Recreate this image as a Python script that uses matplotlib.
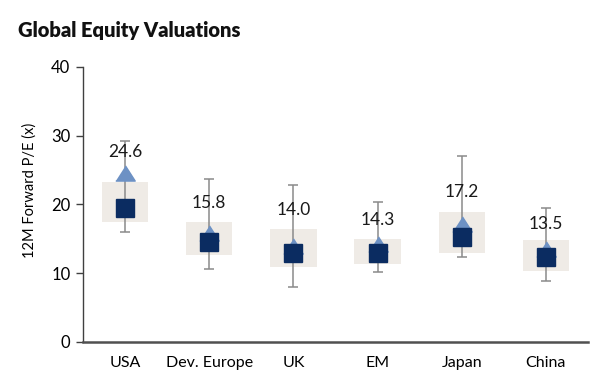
import matplotlib.pyplot as plt
import numpy as np

plt.rcParams['font.family'] = ['Lato', 'DejaVu Sans']

regions = ['USA', 'Dev. Europe', 'UK', 'EM', 'Japan', 'China']
current_pe = [24.6, 15.8, 14.0, 14.3, 17.2, 13.5]      # triangles
avg_pe = [19.5, 14.6, 13.0, 13.0, 15.2, 12.3]          # squares
box_low = [17.5, 12.7, 10.9, 11.4, 13.0, 10.3]
box_high = [23.3, 17.5, 16.5, 15.0, 18.9, 14.8]
range_low = [16.0, 10.6, 8.0, 10.2, 12.3, 8.9]
range_high = [29.2, 23.7, 22.9, 20.3, 27.1, 19.5]

x = np.arange(len(regions))

fig = plt.figure(figsize=(6.11, 3.87), dpi=100)
ax = fig.add_axes([0.1358, 0.1163, 0.8265, 0.7106])

# shaded boxes
ax.bar(x, np.array(box_high) - np.array(box_low), bottom=box_low, width=0.55,
       color='#efebe6', zorder=1)

# min/max whiskers
mid = np.array(avg_pe)
ax.errorbar(x, mid, yerr=[mid - np.array(range_low), np.array(range_high) - mid],
            fmt='none', ecolor='#8a8a8a', elinewidth=1.1, capsize=3.3, capthick=1.1,
            zorder=2)

tri = [(-1, -0.78), (1, -0.78), (0, 0.78)]
ax.plot(x, current_pe, linestyle='none', marker=tri, markersize=14,
        color='#6d91c4', zorder=3)
ax.plot(x, avg_pe, linestyle='none', marker='s', markersize=13,
        color='#0b2c61', markeredgecolor='#0b2c61', zorder=4)

label_offsets = [15, 22, 26, 17, 23, 18]
for xi, v, off in zip(x, current_pe, label_offsets):
    ax.annotate('%.1f' % v, xy=(xi, v), xytext=(0, off), textcoords='offset points',
                ha='center', va='center', fontsize=12.5, color='#1a1a1a', zorder=5)

ax.set_xlim(-0.5, 5.5)
ax.set_ylim(0, 40)
ax.set_yticks([0, 10, 20, 30, 40])
ax.set_xticks(x)
ax.set_xticklabels(regions, fontsize=11.5)
ax.tick_params(axis='x', length=0, pad=10)
ax.tick_params(axis='y', length=5, width=1, color='#404040', labelsize=12, pad=4)
ax.set_ylabel('12M Forward P/E (x)', fontsize=10.5, va='center')
ax.yaxis.set_label_coords(-0.105, 0.55)

for s in ['top', 'right']:
    ax.spines[s].set_visible(False)
ax.spines['left'].set_color('#404040')
ax.spines['left'].set_linewidth(1)
ax.spines['bottom'].set_color('#505050')
ax.spines['bottom'].set_linewidth(1.8)

fig.text(0.03, 0.905, 'Global Equity Valuations', fontsize=14.5, fontweight='heavy',
         color='#111111', ha='left', va='baseline')

plt.savefig('out.png', dpi=100)
